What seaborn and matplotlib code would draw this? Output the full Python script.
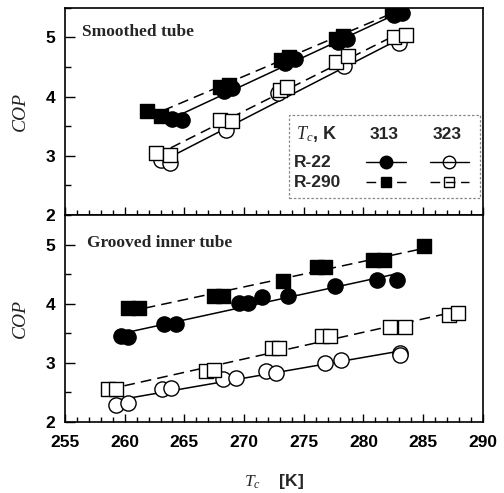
import numpy as np
import pandas as pd
import matplotlib
matplotlib.use('Agg')
import matplotlib.pyplot as plt
from matplotlib.patches import Rectangle
from matplotlib.ticker import MultipleLocator
import seaborn as sns

# ---------------- data ----------------
panels = ["Smoothed tube", "Grooved inner tube"]
refrigerants = ["R-22", "R-290"]
tc_values = ["313", "323"]

# Smoothed tube
s_r22_313_x = [264.0, 264.8, 268.3, 269.0, 273.4, 274.3, 277.9, 278.6, 282.6, 283.2]
s_r22_313_y = [3.63, 3.60, 4.10, 4.15, 4.57, 4.64, 4.92, 4.97, 5.38, 5.42]
s_r290_313_x = [261.9, 263.0, 268.0, 268.7, 273.1, 273.8, 277.7, 278.3, 282.4, 283.0]
s_r290_313_y = [3.75, 3.68, 4.17, 4.20, 4.62, 4.67, 4.98, 5.02, 5.45, 5.48]
s_r22_323_x = [263.0, 263.8, 268.5, 272.8, 278.4, 283.0]
s_r22_323_y = [2.93, 2.88, 3.44, 4.06, 4.51, 4.90]
s_r290_323_x = [262.6, 263.8, 268.0, 269.0, 273.0, 273.6, 277.7, 278.7, 282.6, 283.6]
s_r290_323_y = [3.05, 3.01, 3.61, 3.58, 4.12, 4.17, 4.59, 4.68, 5.01, 5.04]

# Grooved inner tube
g_r22_313_x = [259.7, 260.3, 263.3, 264.3, 269.6, 270.3, 271.5, 273.7, 277.6, 281.1, 282.8]
g_r22_313_y = [3.46, 3.44, 3.65, 3.66, 4.01, 4.02, 4.11, 4.13, 4.30, 4.40, 4.40]
g_r290_313_x = [260.3, 261.2, 267.5, 268.2, 273.3, 276.1, 276.8, 280.8, 281.7, 285.1]
g_r290_313_y = [3.92, 3.92, 4.13, 4.13, 4.39, 4.62, 4.62, 4.74, 4.74, 4.97]
g_r22_323_x = [259.3, 260.3, 263.1, 263.9, 268.2, 269.3, 271.8, 272.7, 276.8, 278.1, 283.1, 283.1]
g_r22_323_y = [2.29, 2.32, 2.55, 2.58, 2.72, 2.74, 2.86, 2.83, 3.00, 3.04, 3.17, 3.14]
g_r290_323_x = [258.6, 259.3, 266.8, 267.5, 272.3, 272.9, 276.5, 277.2, 282.2, 283.5, 287.2, 287.9]
g_r290_323_y = [2.55, 2.55, 2.87, 2.88, 3.25, 3.25, 3.46, 3.46, 3.60, 3.60, 3.81, 3.85]

x_ticks = [255, 260, 265, 270, 275, 280, 285, 290]
y_ticks = [2, 3, 4, 5]

series = [
    (panels[0], "R-22", "313", s_r22_313_x, s_r22_313_y),
    (panels[0], "R-290", "313", s_r290_313_x, s_r290_313_y),
    (panels[0], "R-22", "323", s_r22_323_x, s_r22_323_y),
    (panels[0], "R-290", "323", s_r290_323_x, s_r290_323_y),
    (panels[1], "R-22", "313", g_r22_313_x, g_r22_313_y),
    (panels[1], "R-290", "313", g_r290_313_x, g_r290_313_y),
    (panels[1], "R-22", "323", g_r22_323_x, g_r22_323_y),
    (panels[1], "R-290", "323", g_r290_323_x, g_r290_323_y),
]
rows = []
for p, r, t, xs, ys in series:
    for xv, yv in zip(xs, ys):
        rows.append(dict(panel=p, ref=r, tc=t, Te=xv, COP=yv))
df = pd.DataFrame(rows)

# ---------------- style ----------------
sns.set_theme(style="ticks")
plt.rcParams['font.family'] = ['Liberation Sans', 'DejaVu Sans']
plt.rcParams['mathtext.fontset'] = 'custom'
plt.rcParams['mathtext.it'] = 'Liberation Serif:italic'
plt.rcParams['mathtext.rm'] = 'Liberation Serif'
plt.rcParams['mathtext.bf'] = 'Liberation Serif:bold'

DASH = (0, (7, 4))
marker_of = {"R-22": "o", "R-290": "s"}
size_of = {"R-22": 120, "R-290": 95}
face_of = {"313": "black", "323": "white"}
ls_of = {"R-22": "-", "R-290": DASH}

fig, axes = plt.subplots(2, 1, figsize=(5.04, 4.93), dpi=100, sharex=True)
fig.subplots_adjust(left=0.129, right=0.958, top=0.984, bottom=0.144, hspace=0)

for ax, p in zip(axes, panels):
    sub_p = df[df.panel == p]
    for t in tc_values:
        for r in refrigerants:
            sub = sub_p[(sub_p.ref == r) & (sub_p.tc == t)]
            sns.regplot(data=sub, x="Te", y="COP", ax=ax, scatter=False, ci=None,
                        truncate=True,
                        line_kws=dict(color="black", lw=1.1, ls=ls_of[r], zorder=2))
    for t in tc_values:
        for r in refrigerants:
            sub = sub_p[(sub_p.ref == r) & (sub_p.tc == t)]
            sns.scatterplot(data=sub, x="Te", y="COP", ax=ax, marker=marker_of[r],
                            s=size_of[r], facecolor=face_of[t], edgecolor="black",
                            linewidth=1.0, zorder=3, legend=False)
    ax.set_xlim(255, 290)
    ax.set_ylim(2, 5.5)
    ax.set_xticks(x_ticks)
    ax.set_yticks(y_ticks)
    ax.xaxis.set_minor_locator(MultipleLocator(1))
    ax.yaxis.set_minor_locator(MultipleLocator(0.5))
    ax.tick_params(axis='both', which='both', direction='in', top=False, right=False,
                   color='black', width=1.0)
    ax.tick_params(axis='x', which='major', length=6, pad=9)
    ax.tick_params(axis='x', which='minor', length=3.5)
    ax.tick_params(axis='y', which='major', length=7.5, pad=7)
    ax.tick_params(axis='y', which='minor', length=4)
    for lab in ax.get_xticklabels() + ax.get_yticklabels():
        lab.set_fontsize(12.5)
        lab.set_fontweight('bold')
        lab.set_color('black')
    for sp in ax.spines.values():
        sp.set_visible(True)
        sp.set_color('black')
        sp.set_linewidth(1.2)
    ax.set_ylabel("COP", fontfamily="Liberation Serif", style="italic", fontsize=14,
                  labelpad=12, color='#222222')
    ax.set_xlabel("")

axes[0].text(0.041, 0.885, panels[0], transform=axes[0].transAxes,
             fontfamily="Liberation Serif", fontweight="bold", fontsize=12.5, va="center")
axes[1].text(0.052, 0.863, panels[1], transform=axes[1].transAxes,
             fontfamily="Liberation Serif", fontweight="bold", fontsize=12.5, va="center")

axes[1].set_xlabel(r"$T_c$    [K]", fontsize=12.5, fontweight="bold", labelpad=16)

# ---------------- legend (custom table) ----------------
ax = axes[0]
tr = ax.transAxes
ax.add_patch(Rectangle((0.537, 0.082), 0.456, 0.40, transform=tr, facecolor="white",
                       edgecolor="#888888", lw=0.9, ls=(0, (2, 1.5)), zorder=4))
ax.text(0.552, 0.39, r"$T_{c}$, K", transform=tr, fontsize=13, fontweight="bold",
        va="center", ha="left", zorder=5)
ax.text(0.764, 0.39, tc_values[0], transform=tr, fontsize=12.5, fontweight="bold",
        va="center", ha="center", zorder=5)
ax.text(0.915, 0.39, tc_values[1], transform=tr, fontsize=12.5, fontweight="bold",
        va="center", ha="center", zorder=5)
row_y = {"R-22": 0.255, "R-290": 0.159}
col_x = {"313": 0.768, "323": 0.920}
for r in refrigerants:
    yy = row_y[r]
    ax.text(0.548, yy, r, transform=tr, fontsize=12.5, fontweight="bold",
            va="center", ha="left", zorder=5)
    for t in tc_values:
        xc = col_x[t]
        ax.plot([xc - 0.047, xc + 0.047], [yy, yy], transform=tr, color="black",
                lw=1.0, ls=ls_of[r] if r == "R-290" else "-", zorder=5)
        ax.plot([xc], [yy], transform=tr, marker=marker_of[r],
                markersize=9 if r == "R-22" else 7.5,
                markerfacecolor="black" if t == "313" else "none",
                markeredgecolor="black", mew=1.0, ls="none", zorder=6)

fig.savefig("out.png", dpi=100)
